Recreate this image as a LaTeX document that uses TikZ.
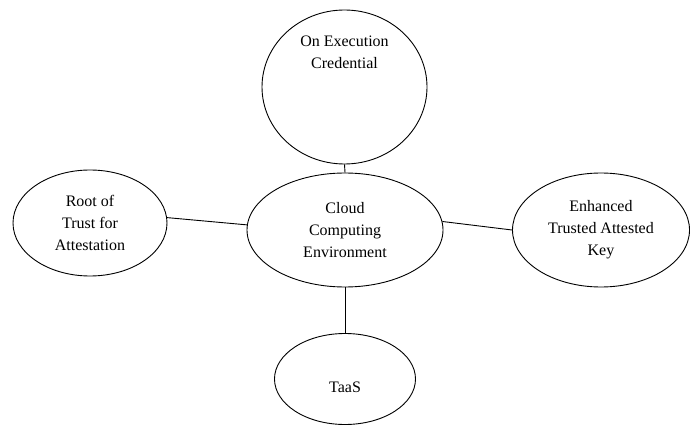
\documentclass[tikz,border=0pt]{standalone}
\usepackage{fontspec}
\setmainfont{Liberation Serif}
\usepackage{tikz}
\usetikzlibrary{shapes,positioning}
\usepackage{xcolor}

\begin{document}
\begin{tikzpicture}[x=1pt, y=1pt,
		bub/.style={draw, ellipse, line width=0.9pt, inner sep=0pt, align=center,
			font=\fontsize{16}{22}\selectfont}] % {{{
		\useasboundingbox (0,0) rectangle (690,426);
		% Nodos   {{{
		\node[bub, minimum width=196, minimum height=114] (cce) at (345,196) {Cloud\\Computing\\Environment};
		\node[bub, minimum width=165, minimum height=154] (oec) at (344.5,339)
			{\raisebox{30pt}[0pt][0pt]{\begin{tabular}{@{}c@{}}On Execution\\Credential\end{tabular}}};
		\node[bub, minimum width=154, minimum height=106] (rta) at (90,203) {Root of\\Trust for\\Attestation};
		\node[bub, minimum width=177, minimum height=114] (eta) at (601,196) {Enhanced\\Trusted Attested\\Key};
		\node[bub, minimum width=141, minimum height=91] (taas) at (345,47) {\raisebox{-13pt}[0pt][0pt]{TaaS}};
		% }}}
		% Lineas   {{{
		\draw[line width=0.9pt] (oec.south) -- (cce.north);
		\draw[line width=0.9pt] (rta.4) -- (cce.177);
		\draw[line width=0.9pt] (cce.5) -- (eta.west);
		\draw[line width=0.9pt] (cce.south) -- (taas.north);
		% }}}
		\end{tikzpicture} % }}}
\end{document}
